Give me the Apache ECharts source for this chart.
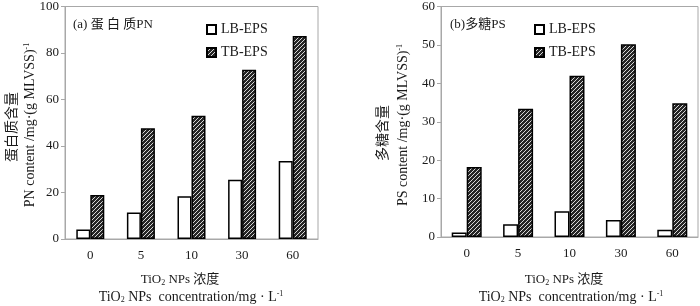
<!DOCTYPE html>
<html>
<head>
<meta charset="utf-8">
<script src="https://cdn.jsdelivr.net/npm/echarts@6/dist/echarts.min.js"></script>
<style>
html, body { margin: 0; padding: 0; background: #fff; }
#main { width: 700px; height: 306px; }
</style>
</head>
<body>
<div id="main"></div>
<script>
// TiO2 NPs 浓度
var categories = ['0', '5', '10', '30', '60'];
// (a) 蛋白质PN
var pnLB = [4.1, 11.4, 18.4, 25.5, 33.6];
var pnTB = [18.9, 47.6, 53.0, 72.8, 87.3];
// (b) 多糖PS
var psLB = [1.2, 3.3, 6.7, 4.4, 1.9];
var psTB = [18.2, 33.4, 42.0, 50.2, 34.8];

var FONT = '"Liberation Serif", "Noto Sans CJK SC", serif';
var TXT = '#1a1a1a';
var AXIS = '#a8a8a8';

// 斜线填充
function makeHatch() {
    var c = document.createElement('canvas');
    c.width = 4;
    c.height = 4;
    var ctx = c.getContext('2d');
    ctx.fillStyle = '#262626';
    ctx.fillRect(0, 0, 4, 4);
    ctx.strokeStyle = '#d8d8d8';
    ctx.lineWidth = 1;
    ctx.beginPath();
    ctx.moveTo(0, 4); ctx.lineTo(4, 0);
    ctx.moveTo(-1, 1); ctx.lineTo(1, -1);
    ctx.moveTo(3, 5); ctx.lineTo(5, 3);
    ctx.stroke();
    return { image: c, repeat: 'repeat' };
}
var hatch = makeHatch();

function yAxisOpt(idx, max, interval) {
    return {
        type: 'value', gridIndex: idx, min: 0, max: max, interval: interval,
        axisLine: { show: true, lineStyle: { color: AXIS, width: 1 } },
        axisTick: { show: true, length: 4, lineStyle: { color: AXIS } },
        axisLabel: { color: TXT, fontFamily: FONT, fontSize: 13, margin: 6 },
        splitLine: { show: false }
    };
}
function xAxisOpt(idx) {
    return {
        type: 'category', gridIndex: idx, data: categories,
        axisLine: { show: true, lineStyle: { color: AXIS, width: 1 } },
        axisTick: { show: false },
        axisLabel: { color: TXT, fontFamily: FONT, fontSize: 13, margin: 10 }
    };
}
function barSeries(name, data, idx, width, fill) {
    return {
        name: name, type: 'bar', xAxisIndex: idx, yAxisIndex: idx,
        data: data, barWidth: width, barGap: '0%',
        itemStyle: { color: fill, borderColor: '#000', borderWidth: 1.5 }
    };
}
function txt(x, y, str, rot, size, align) {
    return {
        type: 'text', x: x, y: y, rotation: rot || 0,
        style: {
            text: str, fill: TXT, font: (size || 13) + 'px ' + FONT,
            align: align || 'center', verticalAlign: 'middle',
            rich: {
                sub: { fontSize: 8, fontFamily: FONT, fill: TXT, verticalAlign: 'bottom', padding: [6, 0, 0, 0] },
                sup: { fontSize: 8, fontFamily: FONT, fill: TXT, verticalAlign: 'top', padding: [0, 0, 6, 0] }
            }
        }
    };
}
function legendOpt(left) {
    return {
        orient: 'vertical', left: left, top: 17, itemGap: 8,
        itemWidth: 9, itemHeight: 9, icon: 'rect',
        data: ['LB-EPS', 'TB-EPS'],
        textStyle: { color: TXT, fontFamily: FONT, fontSize: 14, lineHeight: 15 }
    };
}

var option = {
    animation: false,
    backgroundColor: '#fff',
    grid: [
        { left: 65, top: 5, width: 253, height: 234, show: true, borderColor: AXIS, borderWidth: 1 },
        { left: 441, top: 5, width: 257, height: 232, show: true, borderColor: AXIS, borderWidth: 1 }
    ],
    legend: [legendOpt(201), legendOpt(529)],
    xAxis: [xAxisOpt(0), xAxisOpt(1)],
    yAxis: [yAxisOpt(0, 100, 20), yAxisOpt(1, 60, 10)],
    series: [
        barSeries('LB-EPS', pnLB, 0, 14, '#fff'),
        barSeries('TB-EPS', pnTB, 0, 14, hatch),
        barSeries('LB-EPS', psLB, 1, 15, '#fff'),
        barSeries('TB-EPS', psTB, 1, 15, hatch)
    ],
    graphic: [
        txt(73, 25, '(a) 蛋 白 质PN', 0, 13, 'left'),
        txt(450, 25, '(b)多糖PS', 0, 13, 'left'),
        txt(12, 127, '蛋白质含量', Math.PI / 2, 14),
        txt(30, 125, 'PN content /mg·(g MLVSS){sup|-1}', Math.PI / 2, 14),
        txt(383, 133, '多糖含量', Math.PI / 2, 14),
        txt(403, 125, 'PS content /mg·(g MLVSS){sup|-1}', Math.PI / 2, 14),
        txt(180, 280, 'TiO{sub|2} NPs 浓度', 0, 13),
        txt(191, 297, 'TiO{sub|2} NPs  concentration/mg · L{sup|-1}', 0, 14),
        txt(564, 280, 'TiO{sub|2} NPs 浓度', 0, 13),
        txt(571, 297, 'TiO{sub|2} NPs  concentration/mg · L{sup|-1}', 0, 14)
    ]
};

var chart = echarts.init(document.getElementById('main'));
chart.setOption(option);
</script>
</body>
</html>
